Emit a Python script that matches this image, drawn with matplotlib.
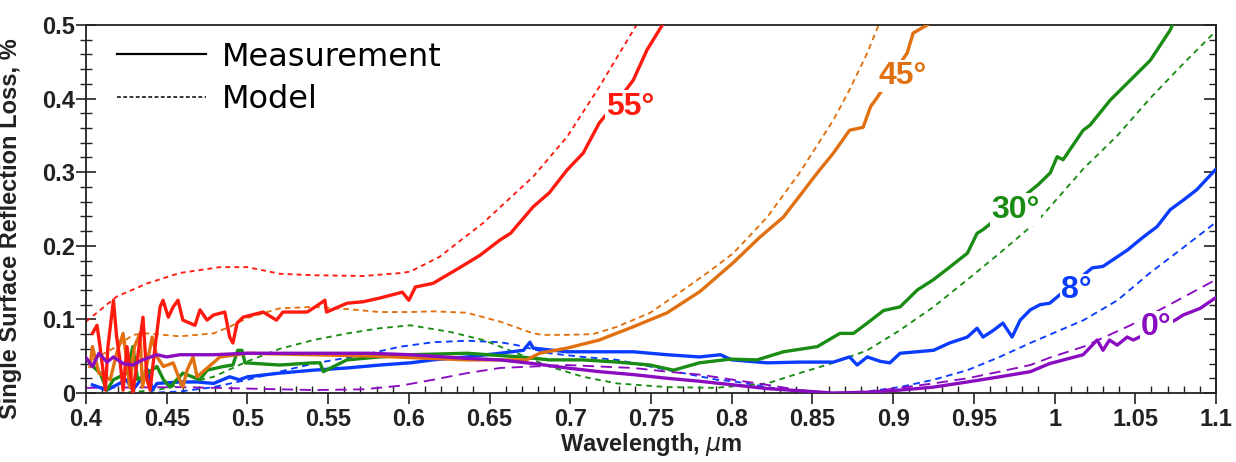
import matplotlib
matplotlib.use("Agg")
import matplotlib.pyplot as plt
from matplotlib.lines import Line2D
from matplotlib.ticker import MultipleLocator
import numpy as np

# ---------------- data ----------------
# 55 deg
wl_55_model = [0.400, 0.419, 0.438, 0.458, 0.483, 0.500, 0.520, 0.541, 0.572, 0.595, 0.601,
               0.619, 0.646, 0.677, 0.698, 0.718, 0.741]
r_55_model = [0.097, 0.131, 0.149, 0.163, 0.171, 0.171, 0.162, 0.160, 0.159, 0.163, 0.165,
              0.185, 0.231, 0.294, 0.348, 0.416, 0.500]
wl_55_meas = [0.404, 0.4068, 0.4087, 0.412, 0.4136, 0.417, 0.419, 0.421, 0.423, 0.4254, 0.429,
              0.432, 0.4353, 0.4378, 0.4397, 0.4428, 0.4459, 0.4477, 0.451, 0.454, 0.457, 0.460,
              0.4675, 0.4706, 0.475, 0.479, 0.486, 0.489, 0.491, 0.4936, 0.4973, 0.5097, 0.518,
              0.522, 0.537, 0.5406, 0.548, 0.549, 0.5617, 0.5717, 0.582, 0.596, 0.600, 0.604,
              0.615, 0.632, 0.644, 0.6565, 0.663, 0.677, 0.687, 0.698, 0.708, 0.718, 0.729,
              0.739, 0.7475, 0.757]
r_55_meas = [0.081, 0.092, 0.063, 0.004, 0.063, 0.126, 0.076, 0.045, 0.004, 0.063, 0.000,
             0.049, 0.103, 0.018, 0.004, 0.063, 0.117, 0.126, 0.103, 0.117, 0.126, 0.099,
             0.092, 0.113, 0.099, 0.106, 0.110, 0.076, 0.068, 0.095, 0.103, 0.110, 0.099,
             0.110, 0.110, 0.115, 0.126, 0.110, 0.122, 0.124, 0.129, 0.137, 0.126, 0.144,
             0.149, 0.171, 0.187, 0.208, 0.217, 0.253, 0.272, 0.303, 0.326, 0.367, 0.396,
             0.425, 0.466, 0.500]

# 45 deg
wl_45_model = [0.404, 0.419, 0.429, 0.438, 0.458, 0.479, 0.489, 0.500, 0.520, 0.541, 0.562,
               0.582, 0.601, 0.615, 0.636, 0.6565, 0.677, 0.683, 0.698, 0.714, 0.729, 0.7495,
               0.770, 0.786, 0.801, 0.822, 0.842, 0.863, 0.873, 0.884, 0.891]
r_45_model = [0.045, 0.063, 0.079, 0.081, 0.077, 0.081, 0.090, 0.102, 0.115, 0.117, 0.114,
              0.110, 0.110, 0.111, 0.109, 0.097, 0.081, 0.079, 0.079, 0.080, 0.090, 0.109,
              0.140, 0.165, 0.190, 0.239, 0.299, 0.371, 0.412, 0.462, 0.500]
wl_45_meas = [0.4025, 0.404, 0.408, 0.415, 0.419, 0.423, 0.4254, 0.427, 0.430, 0.4335, 0.435,
              0.441, 0.444, 0.448, 0.454, 0.458, 0.460, 0.4626, 0.4663, 0.4688, 0.483, 0.500,
              0.540, 0.580, 0.636, 0.673, 0.681, 0.698, 0.718, 0.739, 0.760, 0.7804, 0.8009,
              0.8176, 0.832, 0.853, 0.863, 0.873, 0.8814, 0.886, 0.889, 0.9087, 0.9124, 0.921]
r_45_meas = [0.036, 0.063, 0.027, 0.018, 0.054, 0.081, 0.041, 0.008, 0.063, 0.081, 0.008,
             0.076, 0.049, 0.036, 0.041, 0.018, 0.008, 0.031, 0.049, 0.022, 0.049, 0.054,
             0.052, 0.050, 0.045, 0.045, 0.054, 0.061, 0.072, 0.090, 0.109, 0.138, 0.177,
             0.212, 0.239, 0.299, 0.326, 0.357, 0.361, 0.389, 0.398, 0.462, 0.489, 0.500]

# 30 deg
wl_30_model = [0.420, 0.444, 0.458, 0.479, 0.500, 0.520, 0.541, 0.562, 0.582, 0.601, 0.6255,
               0.646, 0.667, 0.687, 0.708, 0.729, 0.760, 0.790, 0.822, 0.842, 0.863, 0.884,
               0.904, 0.925, 0.946, 0.966, 0.990, 1.018, 1.039, 1.059, 1.080, 1.100]
r_30_model = [0.000, 0.004, 0.011, 0.022, 0.043, 0.060, 0.072, 0.081, 0.088, 0.092, 0.083,
              0.072, 0.054, 0.036, 0.022, 0.013, 0.008, 0.007, 0.013, 0.027, 0.041, 0.058,
              0.085, 0.117, 0.154, 0.190, 0.235, 0.305, 0.350, 0.400, 0.448, 0.492]
wl_30_meas = [0.4025, 0.4087, 0.413, 0.417, 0.4254, 0.429, 0.432, 0.444, 0.448, 0.452, 0.460,
              0.4706, 0.475, 0.485, 0.491, 0.494, 0.4966, 0.4985, 0.520, 0.5406, 0.545, 0.547,
              0.5617, 0.582, 0.601, 0.636, 0.669, 0.687, 0.708, 0.729, 0.7495, 0.764, 0.780,
              0.799, 0.8157, 0.832, 0.853, 0.867, 0.8754, 0.884, 0.894, 0.9043, 0.915, 0.925,
              0.935, 0.946, 0.952, 0.9557, 0.966, 0.978, 0.9898, 0.9973, 1.0016, 1.0053,
              1.0177, 1.022, 1.0345, 1.0593, 1.0716, 1.073]
r_30_meas = [0.040, 0.027, 0.004, 0.018, 0.027, 0.063, 0.018, 0.036, 0.018, 0.008, 0.027,
             0.018, 0.031, 0.036, 0.038, 0.058, 0.058, 0.041, 0.038, 0.041, 0.041, 0.029,
             0.045, 0.049, 0.052, 0.054, 0.049, 0.045, 0.045, 0.042, 0.038, 0.031, 0.041,
             0.046, 0.045, 0.056, 0.063, 0.081, 0.081, 0.095, 0.112, 0.117, 0.140, 0.154,
             0.171, 0.190, 0.217, 0.222, 0.240, 0.262, 0.283, 0.299, 0.321, 0.317,
             0.357, 0.364, 0.398, 0.452, 0.493, 0.500]

# 8 deg
wl_8_model = [0.438, 0.458, 0.479, 0.500, 0.520, 0.541, 0.572, 0.595, 0.615, 0.636, 0.6565,
              0.667, 0.687, 0.708, 0.729, 0.7495, 0.770, 0.791, 0.801, 0.822, 0.842, 0.863,
              0.884, 0.904, 0.925, 0.946, 0.966, 0.985, 1.018, 1.039, 1.059, 1.080, 1.100]
r_8_model = [0.000, 0.002, 0.008, 0.018, 0.029, 0.040, 0.052, 0.063, 0.069, 0.071, 0.069,
             0.065, 0.054, 0.049, 0.045, 0.036, 0.027, 0.018, 0.016, 0.008, 0.001, 0.000,
             0.002, 0.008, 0.018, 0.031, 0.049, 0.068, 0.099, 0.126, 0.163, 0.198, 0.232]
wl_8_meas = [0.404, 0.413, 0.425, 0.429, 0.4385, 0.441, 0.444, 0.458, 0.4688, 0.479, 0.489,
             0.495, 0.500, 0.520, 0.5406, 0.5617, 0.582, 0.601, 0.615, 0.636, 0.6565, 0.671,
             0.675, 0.677, 0.698, 0.718, 0.739, 0.760, 0.780, 0.793, 0.800, 0.822, 0.8424,
             0.863, 0.873, 0.8777, 0.884, 0.892, 0.898, 0.9043, 0.925, 0.935, 0.946, 0.952,
             0.9557, 0.962, 0.968, 0.9737, 0.9787, 0.985, 0.991, 0.997, 1.0233, 1.030,
             1.0388, 1.045, 1.055, 1.0635, 1.0716, 1.0797, 1.088, 1.0995]
r_8_meas = [0.011, 0.004, 0.018, 0.004, 0.031, 0.004, 0.013, 0.015, 0.015, 0.013, 0.022,
            0.018, 0.022, 0.027, 0.031, 0.034, 0.038, 0.041, 0.045, 0.049, 0.054, 0.058,
            0.069, 0.061, 0.056, 0.056, 0.056, 0.052, 0.049, 0.052, 0.045, 0.041, 0.042,
            0.042, 0.049, 0.038, 0.049, 0.043, 0.041, 0.054, 0.058, 0.068, 0.076, 0.088,
            0.076, 0.085, 0.095, 0.076, 0.099, 0.113, 0.120, 0.122, 0.170, 0.172,
            0.185, 0.194, 0.212, 0.226, 0.249, 0.262, 0.276, 0.303]

# 0 deg
wl_0_model = [0.400, 0.458, 0.500, 0.541, 0.572, 0.595, 0.615, 0.636, 0.6565, 0.677, 0.698,
              0.718, 0.739, 0.760, 0.780, 0.801, 0.822, 0.842, 0.863, 0.884, 0.904, 0.925,
              0.946, 0.966, 0.985, 0.997, 1.018, 1.047, 1.072, 1.100]
r_0_model = [0.007, 0.008, 0.006, 0.004, 0.005, 0.010, 0.018, 0.027, 0.034, 0.036, 0.038,
             0.036, 0.034, 0.029, 0.025, 0.018, 0.011, 0.004, 0.000, 0.001, 0.007, 0.013,
             0.020, 0.029, 0.038, 0.048, 0.063, 0.092, 0.121, 0.154]
wl_0_meas = [0.400, 0.404, 0.408, 0.413, 0.417, 0.423, 0.429, 0.435, 0.444, 0.450, 0.458,
             0.469, 0.479, 0.500, 0.541, 0.575, 0.601, 0.615, 0.636, 0.6565, 0.677, 0.698,
             0.718, 0.739, 0.760, 0.780, 0.801, 0.822, 0.8424, 0.863, 0.884, 0.9043, 0.925,
             0.946, 0.966, 0.985, 0.997, 1.0177, 1.0264, 1.030, 1.034, 1.0388, 1.045, 1.0487,
             1.0747, 1.0797, 1.0902, 1.0995]
r_0_meas = [0.048, 0.036, 0.054, 0.042, 0.049, 0.040, 0.038, 0.045, 0.052, 0.049, 0.052,
            0.052, 0.052, 0.054, 0.054, 0.054, 0.052, 0.050, 0.047, 0.045, 0.040, 0.034,
            0.029, 0.025, 0.020, 0.016, 0.011, 0.006, 0.003, 0.000, 0.001, 0.004, 0.008,
            0.015, 0.022, 0.029, 0.040, 0.052, 0.072, 0.058, 0.072, 0.065, 0.076, 0.072,
            0.099, 0.106, 0.115, 0.129]

angle_labels = ["55°", "45°", "30°", "8°", "0°"]
label_wl = [0.737, 0.906, 0.976, 1.0134, 1.063]
label_r = [0.389, 0.431, 0.249, 0.140, 0.089]

x_ticks = [0.4, 0.45, 0.5, 0.55, 0.6, 0.65, 0.7, 0.75, 0.8, 0.85, 0.9, 0.95, 1.0, 1.05, 1.1]
x_ticklabels = ["0.4", "0.45", "0.5", "0.55", "0.6", "0.65", "0.7", "0.75", "0.8", "0.85",
                "0.9", "0.95", "1", "1.05", "1.1"]
y_ticks = [0, 0.1, 0.2, 0.3, 0.4, 0.5]
y_ticklabels = ["0", "0.1", "0.2", "0.3", "0.4", "0.5"]

# ---------------- styling ----------------
colors = {"55": "#ff1a0f", "45": "#e07010", "30": "#1a8c14", "8": "#0a3cff", "0": "#8a0cc0"}
tick_font = "Liberation Sans"

fig = plt.figure(figsize=(12.36, 4.62), dpi=100)
ax = fig.add_axes([86 / 1236, 1 - 393 / 462, 1130 / 1236, 368 / 462])

lw_meas = 2.4
lw_model = 1.35

series = [
    ("8", wl_8_model, r_8_model, wl_8_meas, r_8_meas, (0, (3.5, 2.5))),
    ("30", wl_30_model, r_30_model, wl_30_meas, r_30_meas, (0, (3.0, 2.5))),
    ("45", wl_45_model, r_45_model, wl_45_meas, r_45_meas, (0, (3.0, 2.2))),
    ("55", wl_55_model, r_55_model, wl_55_meas, r_55_meas, (0, (2.6, 2.2))),
    ("0", wl_0_model, r_0_model, wl_0_meas, r_0_meas, (0, (6.0, 3.5))),
]
for key, wm, rm, wx, rx, dash in series:
    ax.plot(wm, rm, color=colors[key], lw=lw_model, linestyle=dash, zorder=2)
for key, wm, rm, wx, rx, dash in series:
    ax.plot(wx, rx, color=colors[key], lw=lw_meas, solid_joinstyle="round", zorder=3)

label_colors = [colors["55"], colors["45"], colors["30"], colors["8"], colors["0"]]
for txt, lx, ly, c in zip(angle_labels, label_wl, label_r, label_colors):
    ax.text(lx, ly, txt, color=c, fontsize=23, fontweight="bold", ha="center", va="center",
            family=tick_font, zorder=5,
            bbox=dict(facecolor="white", edgecolor="none", pad=1.0))

ax.set_xlim(0.4, 1.1)
ax.set_ylim(0, 0.5)
ax.set_xticks(x_ticks)
ax.set_xticklabels(x_ticklabels)
ax.set_yticks(y_ticks)
ax.set_yticklabels(y_ticklabels)
ax.xaxis.set_minor_locator(MultipleLocator(0.01))
ax.yaxis.set_minor_locator(MultipleLocator(0.02))

spine_color = "#222222"
for s in ax.spines.values():
    s.set_linewidth(1.3)
    s.set_color(spine_color)

ax.tick_params(axis="x", which="major", direction="out", length=8, width=1.2, color=spine_color,
               labelsize=17, pad=3, labelcolor="#222222")
ax.tick_params(axis="x", which="minor", direction="in", length=5, width=1.0, color=spine_color)
ax.tick_params(axis="y", which="major", direction="inout", length=14, width=1.2, color=spine_color,
               labelsize=17, pad=1, labelcolor="#222222", right=False)
ax.tick_params(axis="y", which="minor", direction="inout", length=8, width=1.0, color=spine_color,
               right=False)
for lab in ax.get_xticklabels() + ax.get_yticklabels():
    lab.set_fontweight("bold")
    lab.set_family(tick_font)

sec = ax.secondary_yaxis("right")
sec.set_yticks(y_ticks)
sec.yaxis.set_minor_locator(MultipleLocator(0.02))
sec.tick_params(axis="y", which="major", direction="in", length=9, width=1.2, color=spine_color,
                labelright=False)
sec.tick_params(axis="y", which="minor", direction="in", length=5, width=1.0, color=spine_color)
sec.spines["right"].set_linewidth(1.3)
sec.spines["right"].set_color(spine_color)

ax.set_xlabel("Wavelength, $\\mu$m", fontsize=17, fontweight="bold", family=tick_font,
              color="#222222", labelpad=0)
ax.set_ylabel("Single Surface Reflection Loss, %", fontsize=17, fontweight="bold",
              family=tick_font, color="#222222")
ax.yaxis.set_label_coords(-0.0566, 0.448)

handles = [Line2D([], [], color="black", lw=1.6),
           Line2D([], [], color="black", lw=1.1, linestyle=(0, (2.5, 1.6)))]
leg = ax.legend(handles, ["Measurement", "Model"], loc="upper left",
                bbox_to_anchor=(0.027, 0.955), frameon=False,
                handlelength=2.8, handletextpad=0.5, labelspacing=0.35,
                borderpad=0, borderaxespad=0,
                prop={"family": "DejaVu Sans", "size": 23})

fig.savefig("out.png", dpi=100)
